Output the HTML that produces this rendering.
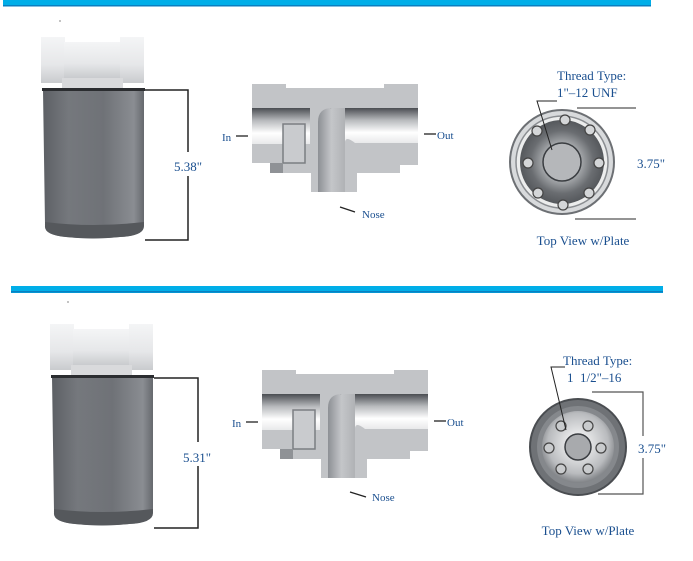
<!DOCTYPE html>
<html><head><meta charset="utf-8"><style>
html,body{margin:0;padding:0;background:#fff;}
svg{display:block;}
text{font-family:"Liberation Serif",serif;fill:#1a4f8f;}
</style></head><body>
<svg width="693" height="561" viewBox="0 0 693 561" xmlns="http://www.w3.org/2000/svg">
<defs>
<linearGradient id="can" x1="0" x2="1" y1="0" y2="0">
<stop offset="0" stop-color="#5d6065"/><stop offset="0.25" stop-color="#75787d"/><stop offset="0.6" stop-color="#6f7277"/><stop offset="0.9" stop-color="#8a8d92"/><stop offset="1" stop-color="#66696e"/></linearGradient>
<linearGradient id="head" x1="0" x2="0" y1="0" y2="1">
<stop offset="0" stop-color="#f4f5f6"/><stop offset="0.6" stop-color="#e6e7e9"/><stop offset="1" stop-color="#c9cbce"/></linearGradient>
<linearGradient id="bore" x1="0" x2="0" y1="0" y2="1">
<stop offset="0" stop-color="#4a4d52"/><stop offset="0.35" stop-color="#b8babd"/><stop offset="0.7" stop-color="#ffffff"/><stop offset="1" stop-color="#e8e9ea"/></linearGradient>
<linearGradient id="stem" x1="0" x2="1" y1="0" y2="0">
<stop offset="0" stop-color="#8d9095"/><stop offset="0.5" stop-color="#c4c6c9"/><stop offset="1" stop-color="#b0b2b5"/></linearGradient>
<radialGradient id="plate1" cx="0.5" cy="0.5" r="0.5">
<stop offset="0" stop-color="#eeeeef"/><stop offset="0.45" stop-color="#a5a8ab"/><stop offset="0.75" stop-color="#6a6d71"/><stop offset="1" stop-color="#55585c"/></radialGradient>
<radialGradient id="plate2" cx="0.5" cy="0.45" r="0.6">
<stop offset="0" stop-color="#ffffff"/><stop offset="0.7" stop-color="#b9bbbe"/><stop offset="1" stop-color="#6a6d71"/></radialGradient>
<g id="filter">
<rect x="41" y="37" width="24" height="46" fill="url(#head)"/>
<rect x="64" y="42" width="57" height="36" fill="url(#head)"/>
<rect x="120" y="37" width="24" height="46" fill="url(#head)"/>
<rect x="62" y="78" width="61" height="12" fill="#d9dadc"/>
<path d="M43 90 L144 90 L144 224 Q144 236 120 237 Q93 240 66 237 Q44 235 45 224 Z" fill="url(#can)"/>
<path d="M45 222 Q93 228 144 222 L144 226 Q144 236 120 237 Q93 240 66 237 Q44 235 45 226 Z" fill="#55585c"/>
<rect x="42" y="88" width="103" height="3" fill="#2b2d30"/>
</g>
<g id="xsec">
<path d="M252 84 L286 84 L286 88 L384 88 L384 84 L418 84 L418 165 L400 165 L400 173 L357 173 L357 192 L311 192 L311 173 L270 173 L270 163 L252 163 Z" fill="#c2c4c7"/>
<rect x="252" y="108" width="58" height="36" fill="url(#bore)"/>
<path d="M330 108 L418 108 L418 143 L355 143 Q345 135 345 143 Z" fill="url(#bore)"/>
<path d="M318 192 L318 122 Q318 108 332 108 L345 108 L345 192 Z" fill="url(#stem)"/>
<path d="M283 124 L305 124 L305 163 L283 163 Z" fill="#c9cbce" stroke="#7b7e82" stroke-width="1.5"/>
<path d="M270 163 L283 163 L283 173 L270 173 Z" fill="#8f9296"/>
</g>
</defs>

<rect x="3" y="0" width="648" height="6" fill="#00aee8"/>
<rect x="3" y="5" width="648" height="1.5" fill="#0a7fc0"/>
<rect x="11" y="286" width="652" height="7" fill="#00aee8"/>
<rect x="11" y="291" width="652" height="1.5" fill="#0a7fc0"/>

<!-- Section 1 -->
<use href="#filter"/>
<path d="M145 90 H188 V240 H145" fill="none" stroke="#222" stroke-width="1.5"/>
<rect x="170" y="152" width="30" height="24" fill="#fff"/>
<text x="188" y="171" font-size="13" text-anchor="middle">5.38"</text>

<use href="#xsec"/>
<line x1="236" y1="136" x2="248" y2="136" stroke="#222" stroke-width="1.3"/>
<text x="222" y="141" font-size="11">In</text>
<line x1="424" y1="134" x2="436" y2="134" stroke="#222" stroke-width="1.3"/>
<text x="437" y="139" font-size="11">Out</text>
<line x1="340" y1="207" x2="355" y2="212" stroke="#222" stroke-width="1.3"/>
<text x="362" y="218" font-size="11">Nose</text>

<circle cx="562" cy="162" r="52" fill="#d8dadc" stroke="#6d7074" stroke-width="2"/>
<circle cx="562" cy="162" r="46" fill="#eceded" stroke="#8a8d91" stroke-width="1.5"/>
<circle cx="562" cy="162" r="42" fill="url(#plate1)"/>
<circle cx="562" cy="162" r="19" fill="#b5b7ba" stroke="#3a3d41" stroke-width="1.5"/>
<g fill="#d4d6d8" stroke="#444" stroke-width="1.2">
<circle cx="565" cy="120" r="5"/><circle cx="590" cy="130" r="5"/><circle cx="599" cy="163" r="5"/><circle cx="589" cy="193" r="5"/>
<circle cx="563" cy="205" r="5"/><circle cx="538" cy="193" r="5"/><circle cx="528" cy="163" r="5"/><circle cx="537" cy="131" r="5"/></g>
<path d="M557 101 H537 L552 150" fill="none" stroke="#222" stroke-width="1"/>
<line x1="577" y1="108" x2="636" y2="108" stroke="#555" stroke-width="1.2"/>
<line x1="575" y1="219" x2="636" y2="219" stroke="#555" stroke-width="1.2"/>
<text x="557" y="80" font-size="13">Thread Type:</text>
<text x="557" y="97" font-size="13">1"–12 UNF</text>
<text x="637" y="168" font-size="13">3.75"</text>
<text x="583" y="245" font-size="13" text-anchor="middle">Top View w/Plate</text>

<!-- Section 2 -->
<g transform="translate(9,287)"><use href="#filter"/></g>
<path d="M154 378 H198 V528 H154" fill="none" stroke="#222" stroke-width="1.5"/>
<rect x="180" y="442" width="32" height="24" fill="#fff"/>
<text x="197" y="462" font-size="13" text-anchor="middle">5.31"</text>

<g transform="translate(10,286)"><use href="#xsec"/></g>
<line x1="246" y1="422" x2="258" y2="422" stroke="#222" stroke-width="1.3"/>
<text x="232" y="427" font-size="11">In</text>
<line x1="434" y1="421" x2="446" y2="421" stroke="#222" stroke-width="1.3"/>
<text x="447" y="426" font-size="11">Out</text>
<line x1="350" y1="492" x2="366" y2="497" stroke="#222" stroke-width="1.3"/>
<text x="372" y="501" font-size="11">Nose</text>

<circle cx="578" cy="447" r="48" fill="#6f7276" stroke="#4a4d51" stroke-width="2"/>
<circle cx="578" cy="447" r="41" fill="#85888c"/>
<circle cx="578" cy="447" r="36" fill="url(#plate2)"/>
<circle cx="578" cy="447" r="13" fill="#a8aaad" stroke="#3a3d41" stroke-width="1.5"/>
<g fill="#c9cbcd" stroke="#444" stroke-width="1.2">
<circle cx="561" cy="426" r="5"/><circle cx="588" cy="426" r="5"/><circle cx="601" cy="448" r="5"/>
<circle cx="588" cy="469" r="5"/><circle cx="561" cy="469" r="5"/><circle cx="549" cy="448" r="5"/></g>
<path d="M565 367 H551 L566 430" fill="none" stroke="#222" stroke-width="1"/>
<path d="M592 392 H643 V494 H598" fill="none" stroke="#555" stroke-width="1.2"/>
<rect x="632" y="436" width="34" height="22" fill="#fff"/>
<text x="638" y="453" font-size="13">3.75"</text>
<text x="563" y="365" font-size="13">Thread Type:</text>
<text x="567" y="382" font-size="13">1&#160;&#160;1/2"–16</text>
<text x="588" y="535" font-size="13" text-anchor="middle">Top View w/Plate</text>
<circle cx="68" cy="302" r="0.6" fill="#333"/>
<circle cx="60" cy="21" r="0.6" fill="#333"/>
</svg>
</body></html>
